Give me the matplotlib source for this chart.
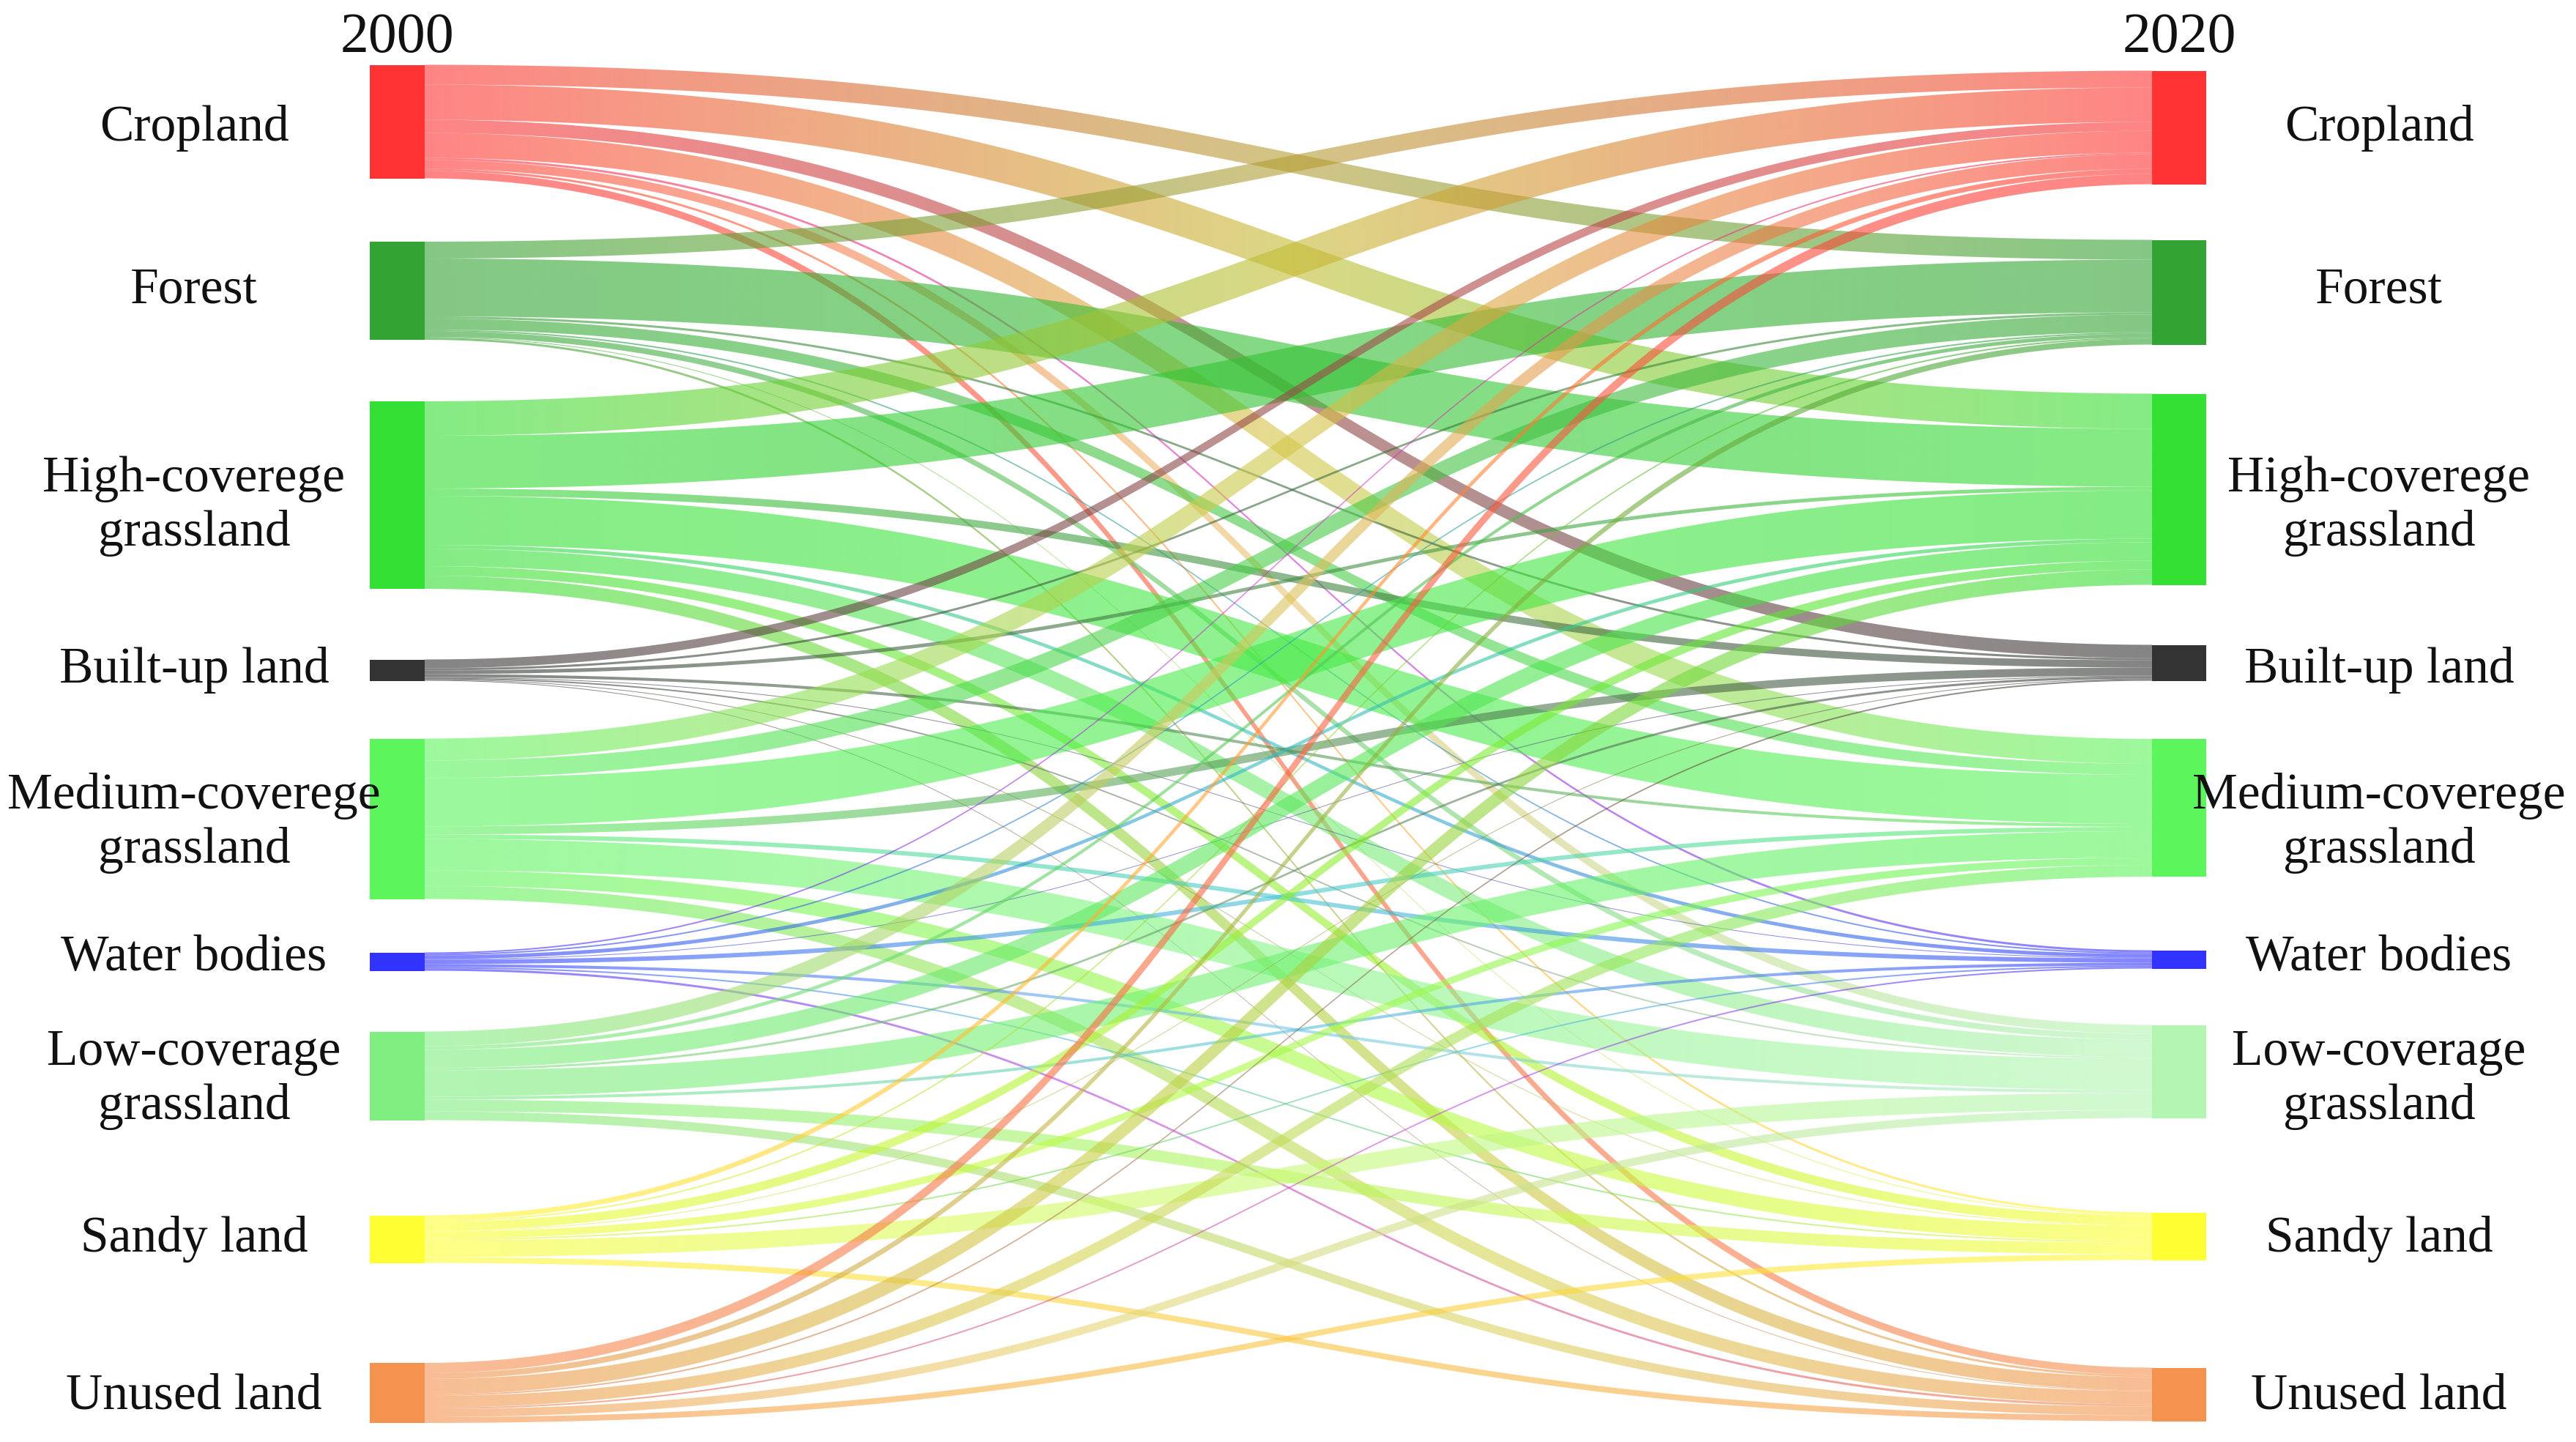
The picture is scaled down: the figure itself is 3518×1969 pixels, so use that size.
import numpy as np
import matplotlib
matplotlib.use("Agg")
import matplotlib.pyplot as plt
from matplotlib.path import Path
from matplotlib.patches import PathPatch, Rectangle
from matplotlib.colors import to_rgb, rgb_to_hsv, hsv_to_rgb

# ---------------- data ----------------
categories = ["Cropland", "Forest", "High-coverege\ngrassland", "Built-up land",
              "Medium-coverege\ngrassland", "Water bodies", "Low-coverage\ngrassland",
              "Sandy land", "Unused land"]
year_left = "2000"
year_right = "2020"

# transfer matrix (rows: 2000 class, columns: 2020 class)
from_cropland = [0, 27, 48, 18, 34, 3, 12, 3, 10]
from_forest = [23, 0, 79, 3, 15, 2, 8, 1, 3]
from_high = [47, 72, 0, 10, 67, 5, 24, 13, 18]
from_builtup = [12, 3, 5, 0, 4, 1, 2, 1, 1]
from_medium = [30, 24, 66, 11, 0, 6, 43, 21, 18]
from_water = [2, 2, 5, 1, 6, 0, 4, 2, 3]
from_low = [20, 5, 25, 3, 36, 4, 0, 16, 12]
from_sandy = [7, 2, 12, 1, 10, 2, 23, 0, 8]
from_unused = [14, 8, 21, 2, 16, 2, 11, 8, 0]

flows = np.array([from_cropland, from_forest, from_high, from_builtup, from_medium,
                  from_water, from_low, from_sandy, from_unused], dtype=float)

# ---------------- style / layout ----------------
colors_left = ["#FF3333", "#33A333", "#33E033", "#333333", "#5CF55C",
               "#3333FF", "#80EE80", "#FFFF33", "#F5924F"]
colors_right = ["#FF3333", "#33A333", "#33E033", "#333333", "#5CF55C",
                "#3333FF", "#B3F5B3", "#FFFF33", "#F5924F"]
left_centers = [166, 397, 676, 915, 1118, 1313, 1469, 1692, 1902]
right_centers = [174, 399, 668, 905, 1103, 1310, 1463, 1688, 1904]
label_y = [175, 397, 691, 915, 1124, 1308, 1474, 1692, 1907]

W, H = 3518, 1969
LX0, LX1 = 505, 580
RX0, RX1 = 2939, 3013
LINK_ALPHA = 0.6
FONT = ["Liberation Serif", "DejaVu Serif"]

fig = plt.figure(figsize=(W / 100, H / 100), dpi=100)
ax = fig.add_axes([0, 0, 1, 1])
ax.set_xlim(0, W)
ax.set_ylim(H, 0)
ax.axis("off")

n = len(categories)
out_tot = flows.sum(axis=1)
in_tot = flows.sum(axis=0)
left_tops = [c - h / 2 for c, h in zip(left_centers, out_tot)]
right_tops = [c - h / 2 for c, h in zip(right_centers, in_tot)]

# offsets of each link at source and target
src_off = np.zeros_like(flows)
tgt_off = np.zeros_like(flows)
for i in range(n):
    acc = left_tops[i]
    for j in range(n):
        src_off[i, j] = acc
        acc += flows[i, j]
for j in range(n):
    acc = right_tops[j]
    for i in range(n):
        tgt_off[i, j] = acc
        acc += flows[i, j]

t = np.linspace(0, 1, 120)
xm = (LX1 + RX0) / 2.0


def bez(x0, y0, x1, y1):
    b0 = (1 - t) ** 3
    b1 = 3 * (1 - t) ** 2 * t
    b2 = 3 * (1 - t) * t ** 2
    b3 = t ** 3
    xs = b0 * x0 + b1 * xm + b2 * xm + b3 * x1
    ys = b0 * y0 + b1 * y0 + b2 * y1 + b3 * y1
    return xs, ys


s = np.linspace(0, 1, 256)


def gradient(c0, c1):
    lin = c0[None, :] * (1 - s[:, None]) + c1[None, :] * s[:, None]
    h0 = rgb_to_hsv(c0)
    h1 = rgb_to_hsv(c1)
    # grey/dark colours carry no hue: use the other end's hue
    if h0[1] < 0.05:
        h0[0] = h1[0]
    if h1[1] < 0.05:
        h1[0] = h0[0]
    dh = h1[0] - h0[0]
    if dh > 0.5:
        dh -= 1
    if dh < -0.5:
        dh += 1
    hh = (h0[0] + dh * s) % 1.0
    ss = h0[1] * (1 - s) + h1[1] * s
    vv = h0[2] * (1 - s) + h1[2] * s
    hsvc = hsv_to_rgb(np.column_stack([hh, ss, vv]))
    return 0.5 * lin + 0.5 * hsvc


for i in range(n):
    for j in range(n):
        v = flows[i, j]
        if v <= 0:
            continue
        y0 = src_off[i, j]
        y1 = tgt_off[i, j]
        xt, yt = bez(LX1, y0, RX0, y1)
        xb, yb = bez(LX1, y0 + v, RX0, y1 + v)
        verts = np.concatenate([np.column_stack([xt, yt]),
                                np.column_stack([xb[::-1], yb[::-1]]),
                                [[xt[0], yt[0]]]])
        codes = [Path.MOVETO] + [Path.LINETO] * (len(verts) - 2) + [Path.CLOSEPOLY]
        path = Path(verts, codes)
        patch = PathPatch(path, facecolor="none", edgecolor="none",
                          transform=ax.transData)
        c0 = np.array(to_rgb(colors_left[i]))
        c1 = np.array(to_rgb(colors_right[j]))
        grad = np.zeros((1, 256, 4))
        grad[0, :, :3] = gradient(c0, c1)
        grad[0, :, 3] = LINK_ALPHA
        ymin = min(y0, y1) - 2
        ymax = max(y0, y1) + v + 2
        im = ax.imshow(grad, extent=(LX1, RX0, ymax, ymin), aspect="auto",
                       interpolation="bilinear", zorder=1)
        im.set_clip_path(patch)

# nodes
for i in range(n):
    ax.add_patch(Rectangle((LX0, left_tops[i]), LX1 - LX0, out_tot[i],
                           facecolor=colors_left[i], edgecolor="none", zorder=3))
    ax.add_patch(Rectangle((RX0, right_tops[i]), RX1 - RX0, in_tot[i],
                           facecolor=colors_right[i], edgecolor="none", zorder=3))

# labels
for i in range(n):
    ax.text(265, label_y[i], categories[i], ha="center", va="center",
            fontsize=50, family=FONT, color="#111111", linespacing=1.2, zorder=4)
    ax.text(3249, label_y[i], categories[i], ha="center", va="center",
            fontsize=50, family=FONT, color="#111111", linespacing=1.2, zorder=4)

ax.text((LX0 + LX1) / 2, 52, year_left, ha="center", va="center",
        fontsize=56, family=FONT, color="#111111", zorder=4)
ax.text((RX0 + RX1) / 2, 52, year_right, ha="center", va="center",
        fontsize=56, family=FONT, color="#111111", zorder=4)

ax.set_xlim(0, W)
ax.set_ylim(H, 0)
fig.savefig("out.png", dpi=100, facecolor="white")
